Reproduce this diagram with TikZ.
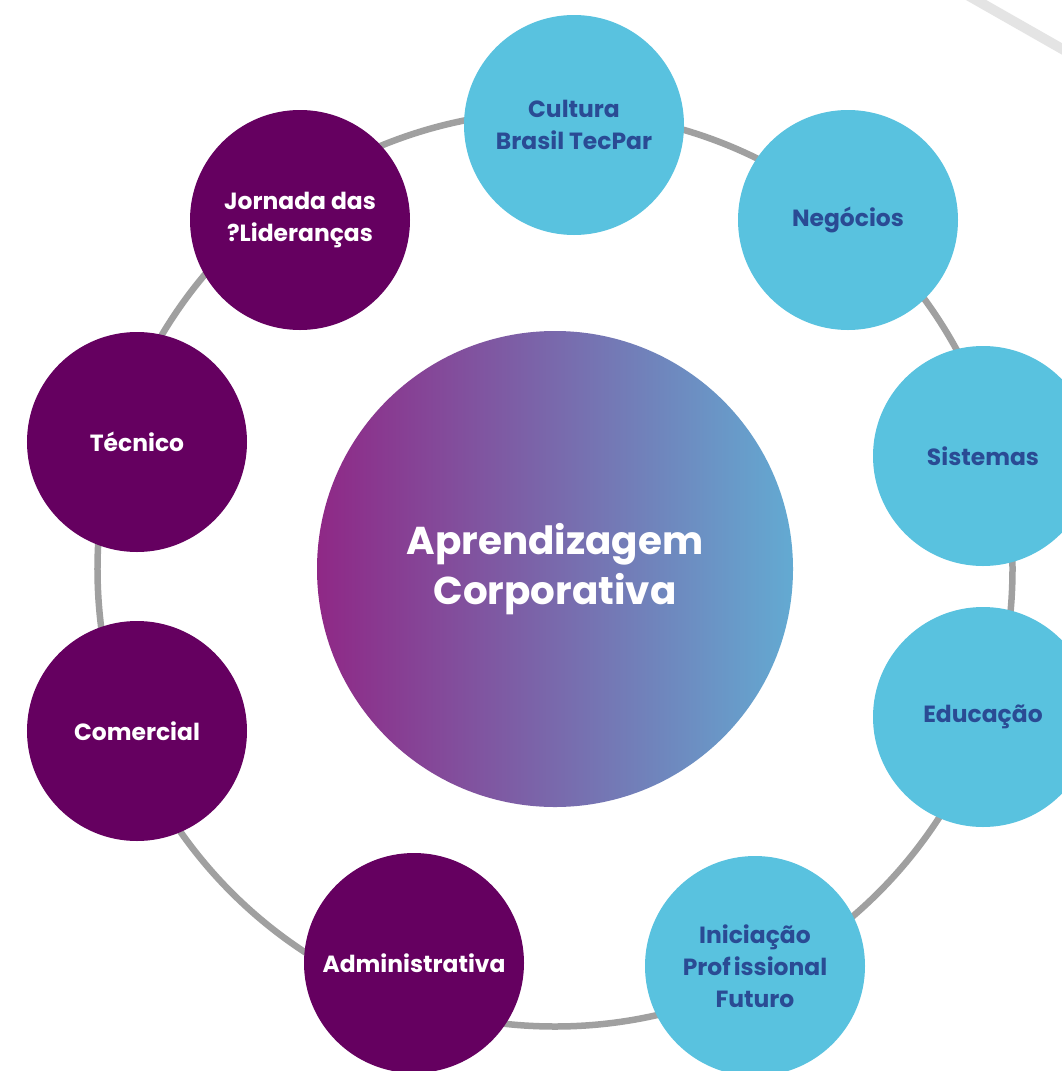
\documentclass[tikz,border=0pt]{standalone}
\usepackage{fontspec}
\setmainfont{Poppins}
\definecolor{darkpurple}{HTML}{650060}
\definecolor{lightblue}{HTML}{59C2DF}
\definecolor{textblue}{HTML}{2A4B94}
\definecolor{ringgray}{HTML}{A0A0A0}
\definecolor{diaggray}{HTML}{E4E4E4}
\definecolor{gradleft}{HTML}{8F2886}
\definecolor{gradright}{HTML}{63AAD2}
\tikzset{
  sat/.style={circle, minimum size=220bp, inner sep=0pt, align=center,
    font=\fontsize{23.5}{32}\selectfont\bfseries},
  purplesat/.style={sat, fill=darkpurple, text=white},
  bluesat/.style={sat, fill=lightblue, text=textblue},
  hub/.style={circle, minimum size=476bp, inner sep=0pt, align=center,
    left color=gradleft, right color=gradright, text=white,
    font=\fontsize{39}{50}\selectfont\bfseries},
  ringstyle/.style={circle, draw=ringgray, line width=6.5bp, minimum size=915bp, inner sep=0pt}
}
\begin{document}
\begin{tikzpicture}[x=1bp,y=-1bp]
\useasboundingbox (0,0) rectangle (1062,1071);
\clip (0,0) rectangle (1062,1071);
\fill[white] (0,0) rectangle (1062,1071);
\coordinate (d1) at (955,-12);
\coordinate (d2) at (1085,62);
\draw[diaggray, line width=10bp] (d1) -- (d2);
\node[ringstyle] (ring) at (555,569) {};
\node[hub] (hub) at (555,569) {Aprendizagem\\Corporativa};
\node[bluesat] (cultura) at (574,125) {Cultura\\Brasil TecPar};
\node[bluesat] (negocios) at (848,220) {Negócios};
\node[bluesat] (sistemas) at (983,456) {Sistemas};
\node[bluesat] (educacao) at (983,717) {Educação};
\node[bluesat] (iniciacao) at (755,966) {Iniciação\\Prof\hspace{3bp}issional\\Futuro};
\node[purplesat] (admin) at (414,963) {Administrativa};
\node[purplesat] (comercial) at (137,731) {Comercial};
\node[purplesat] (tecnico) at (137,442) {Técnico};
\node[purplesat] (jornada) at (300,220) {Jornada das\\?Lideranças};
\end{tikzpicture}
\end{document}
